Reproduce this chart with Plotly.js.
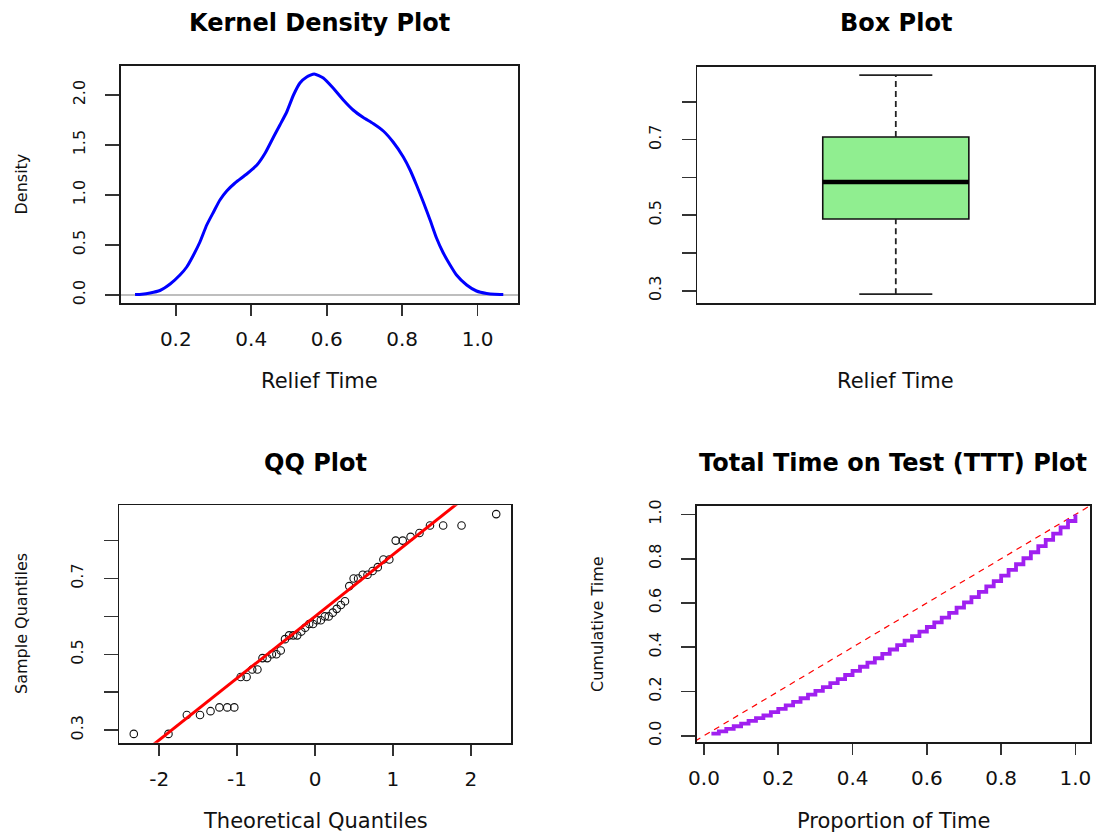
<!DOCTYPE html>
<html>
<head>
<meta charset="utf-8">
<script src="https://cdn.plot.ly/plotly-3.0.1.min.js"></script>
<style>
html,body{margin:0;padding:0;background:#fff;}
#chart{width:1097px;height:832px;}
</style>
</head>
<body>
<div id="chart"></div>
<script>
// ---------- data ----------
// Kernel density curve
var densX = [0.092,0.11,0.132,0.158,0.185,0.211,0.229,0.247,0.264,0.282,0.30,0.317,0.335,0.357,0.388,0.415,0.437,0.459,0.476,0.494,0.512,0.529,0.547,0.567,0.591,0.617,0.644,0.670,0.697,0.723,0.75,0.776,0.803,0.821,0.838,0.856,0.874,0.891,0.909,0.927,0.944,0.971,0.997,1.024,1.045,1.068];
var densY = [0.005,0.008,0.02,0.045,0.11,0.20,0.28,0.40,0.53,0.70,0.83,0.95,1.04,1.12,1.21,1.30,1.42,1.58,1.70,1.83,2.00,2.12,2.18,2.21,2.17,2.07,1.95,1.85,1.775,1.715,1.64,1.53,1.38,1.25,1.10,0.93,0.75,0.57,0.42,0.30,0.20,0.10,0.04,0.015,0.007,0.005];

// Box plot statistics (min, Q1, median, Q3, max)
var boxStats = [0.291, 0.490, 0.588, 0.707, 0.871];

// QQ plot: theoretical quantiles and sorted relief times
var qqTheo = [-2.326,-1.881,-1.645,-1.476,-1.341,-1.227,-1.126,-1.036,-0.954,-0.878,-0.806,-0.739,-0.674,-0.613,-0.553,-0.496,-0.440,-0.385,-0.332,-0.279,-0.228,-0.176,-0.126,-0.075,-0.025,0.025,0.075,0.126,0.176,0.228,0.279,0.332,0.385,0.440,0.496,0.553,0.613,0.674,0.739,0.806,0.878,0.954,1.036,1.126,1.227,1.341,1.476,1.645,1.881,2.326];
var reliefSorted = [0.29,0.29,0.34,0.34,0.35,0.36,0.36,0.36,0.44,0.44,
                    0.46,0.46,0.49,0.49,0.50,0.50,0.51,0.54,0.55,0.55,
                    0.55,0.56,0.57,0.58,0.58,0.59,0.59,0.60,0.60,0.61,
                    0.62,0.63,0.64,0.68,0.70,0.70,0.71,0.71,0.72,0.73,
                    0.75,0.75,0.80,0.80,0.81,0.82,0.84,0.84,0.84,0.87];
var qqLineX = [-3, 3];
var qqLineY = [0.111, 1.089];

// TTT plot
var tttX = [0.02,0.04,0.06,0.08,0.10,0.12,0.14,0.16,0.18,0.20,0.22,0.24,0.26,0.28,0.30,0.32,0.34,0.36,0.38,0.40,0.42,0.44,0.46,0.48,0.50,0.52,0.54,0.56,0.58,0.60,0.62,0.64,0.66,0.68,0.70,0.72,0.74,0.76,0.78,0.80,0.82,0.84,0.86,0.88,0.90,0.92,0.94,0.96,0.98,1.00];
var tttY = [0.0099,0.0197,0.0313,0.0428,0.0547,0.0670,0.0792,0.0915,0.1064,0.1214,0.1370,0.1527,0.1693,0.1860,0.2030,0.2200,0.2373,0.2557,0.2744,0.2931,0.3118,0.3308,0.3502,0.3699,0.3897,0.4097,0.4298,0.4502,0.4706,0.4913,0.5124,0.5338,0.5556,0.5787,0.6025,0.6263,0.6505,0.6746,0.6991,0.7239,0.7494,0.7749,0.8021,0.8293,0.8569,0.8847,0.9133,0.9419,0.9704,1.0];
var diagX = [-0.1, 1.1];
var diagY = [-0.1, 1.1];

// tick labels
var densXTicks = [0.2,0.4,0.6,0.8,1.0];
var densXText = ['0.2','0.4','0.6','0.8','1.0'];
var densYTicks = [0,0.5,1,1.5,2];
var densYText = ['0.0','0.5','1.0','1.5','2.0'];
var qTicks = [0.3,0.4,0.5,0.6,0.7,0.8];
var qText = ['0.3','','0.5','','0.7',''];
var qqXTicks = [-2,-1,0,1,2];
var qqXText = ['-2','-1','0','1','2'];
var tttTicks = [0,0.2,0.4,0.6,0.8,1.0];
var tttText = ['0.0','0.2','0.4','0.6','0.8','1.0'];

// ---------- styling ----------
var W = 1097, H = 832;
var FONT = 'DejaVu Sans, Liberation Sans, Arial, sans-serif';
var boxWidth = 0.368;
var capHalf = boxWidth / 4;

function px(x){ return x / W; }
function py(y){ return 1 - y / H; }

function xax(domain, range, tv, tt, anchor){
  return {domain: domain, range: range, anchor: anchor,
    showline: true, mirror: true, linecolor: '#1a1a1a', linewidth: 1.8,
    ticks: 'outside', ticklen: 11, tickwidth: 1.6, tickcolor: '#333',
    tickvals: tv, ticktext: tt, ticklabelstandoff: 6,
    tickfont: {family: FONT, size: 20, color: '#111'},
    showgrid: false, zeroline: false, fixedrange: true};
}
function yax(domain, range, tv, tt, anchor){
  return {domain: domain, range: range, anchor: anchor,
    showline: true, mirror: true, linecolor: '#1a1a1a', linewidth: 1.8,
    ticks: 'outside', ticklen: 14, tickwidth: 1.6, tickcolor: '#333',
    tickvals: tv, ticktext: tt, tickangle: -90, ticklabelstandoff: 14,
    tickfont: {family: FONT, size: 16, color: '#111'},
    showgrid: false, zeroline: false, fixedrange: true};
}

var traces = [];
// Kernel density
traces.push({type: 'scatter', mode: 'lines', x: densX, y: densY, xaxis: 'x', yaxis: 'y',
  line: {color: '#0000FF', width: 3, shape: 'spline', smoothing: 0.5}, hoverinfo: 'skip'});

// Box plot: box body from stats, whiskers dashed
traces.push({type: 'box', xaxis: 'x2', yaxis: 'y2', x: [0],
  q1: [boxStats[1]], median: [boxStats[2]], q3: [boxStats[3]],
  lowerfence: [boxStats[1]], upperfence: [boxStats[3]],
  width: boxWidth, whiskerwidth: 0, fillcolor: '#90EE90',
  line: {color: '#111', width: 1.6}, boxpoints: false, hoverinfo: 'skip'});
traces.push({type: 'scatter', mode: 'lines', xaxis: 'x2', yaxis: 'y2',
  x: [0, 0], y: [boxStats[3], boxStats[4]],
  line: {color: '#222', width: 1.8, dash: '6px,4px'}, hoverinfo: 'skip'});
traces.push({type: 'scatter', mode: 'lines', xaxis: 'x2', yaxis: 'y2',
  x: [0, 0], y: [boxStats[0], boxStats[1]],
  line: {color: '#222', width: 1.8, dash: '6px,4px'}, hoverinfo: 'skip'});
traces.push({type: 'scatter', mode: 'lines', xaxis: 'x2', yaxis: 'y2',
  x: [-capHalf, capHalf], y: [boxStats[4], boxStats[4]],
  line: {color: '#222', width: 1.6}, hoverinfo: 'skip'});
traces.push({type: 'scatter', mode: 'lines', xaxis: 'x2', yaxis: 'y2',
  x: [-capHalf, capHalf], y: [boxStats[0], boxStats[0]],
  line: {color: '#222', width: 1.6}, hoverinfo: 'skip'});
traces.push({type: 'scatter', mode: 'lines', xaxis: 'x2', yaxis: 'y2',
  x: [-boxWidth/2, boxWidth/2], y: [boxStats[2], boxStats[2]],
  line: {color: '#000', width: 4.5}, hoverinfo: 'skip'});

// QQ plot
traces.push({type: 'scatter', mode: 'markers', xaxis: 'x3', yaxis: 'y3',
  x: qqTheo, y: reliefSorted,
  marker: {symbol: 'circle-open', size: 7.5, color: '#111', line: {width: 1.1, color: '#111'}}, hoverinfo: 'skip'});
traces.push({type: 'scatter', mode: 'lines', xaxis: 'x3', yaxis: 'y3',
  x: qqLineX, y: qqLineY, line: {color: '#FF0000', width: 3}, hoverinfo: 'skip'});

// TTT plot
traces.push({type: 'scatter', mode: 'lines', xaxis: 'x4', yaxis: 'y4',
  x: diagX, y: diagY, line: {color: '#FF0000', width: 1.2, dash: '6px,5px'}, hoverinfo: 'skip'});
traces.push({type: 'scatter', mode: 'lines', xaxis: 'x4', yaxis: 'y4',
  x: tttX, y: tttY, line: {color: '#A020F0', width: 3.8, shape: 'hv'}, hoverinfo: 'skip'});

var P1x = [px(120.7), px(518)], P1y = [py(303), py(66)];
var P2x = [px(697.3), px(1094.3)], P2y = [py(303.3), py(66.7)];
var P3x = [px(119.3), px(510.7)], P3y = [py(742.7), py(505.3)];
var P4x = [px(696.7), px(1090)], P4y = [py(742.3), py(505.7)];

var ya1 = yax(P1y, [-0.08, 2.29], densYTicks, densYText, 'x');
ya1.zeroline = true; ya1.zerolinecolor = '#BEBEBE'; ya1.zerolinewidth = 1.5;

var xa2 = xax(P2x, [-0.5, 0.5], [], [], 'y2');
xa2.ticks = ''; xa2.showticklabels = false;

var layout = {
  width: W, height: H, margin: {l: 0, r: 0, t: 0, b: 0},
  paper_bgcolor: '#fff', plot_bgcolor: '#fff', showlegend: false,
  xaxis: xax(P1x, [0.054, 1.107], densXTicks, densXText, 'y'),
  yaxis: ya1,
  xaxis2: xa2,
  yaxis2: yax(P2y, [0.2668, 0.8932], qTicks, qText, 'x2'),
  xaxis3: xax(P3x, [-2.512, 2.512], qqXTicks, qqXText, 'y3'),
  yaxis3: yax(P3y, [0.2668, 0.8932], qTicks, qText, 'x3'),
  xaxis4: xax(P4x, [-0.0196, 1.0392], tttTicks, tttText, 'y4'),
  yaxis4: yax(P4y, [-0.0297, 1.0396], tttTicks, tttText, 'x4'),
  annotations: []
};

function title(text, x, y){
  layout.annotations.push({text: text, xref: 'paper', yref: 'paper', x: px(x), y: py(y),
    xanchor: 'center', yanchor: 'middle', showarrow: false,
    font: {family: FONT, size: 24, color: '#000', weight: 'bold'}});
}
function xlab(text, x, y){
  layout.annotations.push({text: text, xref: 'paper', yref: 'paper', x: px(x), y: py(y),
    xanchor: 'center', yanchor: 'middle', showarrow: false,
    font: {family: FONT, size: 21, color: '#111'}});
}
function ylab(text, x, y){
  layout.annotations.push({text: text, xref: 'paper', yref: 'paper', x: px(x), y: py(y),
    xanchor: 'center', yanchor: 'middle', showarrow: false, textangle: -90,
    font: {family: FONT, size: 16, color: '#111'}});
}
title('Kernel Density Plot', 319.3, 23);
title('Box Plot', 895.8, 23);
title('QQ Plot', 315, 463);
title('Total Time on Test (TTT) Plot', 893.4, 463);
xlab('Relief Time', 319.3, 381);
xlab('Relief Time', 895.8, 381);
xlab('Theoretical Quantiles', 315, 821);
xlab('Proportion of Time', 893.4, 821);
ylab('Density', 21, 184.5);
ylab('Sample Quantiles', 21, 624);
ylab('Cumulative Time', 597, 624);

Plotly.newPlot('chart', traces, layout, {staticPlot: true, displayModeBar: false});
</script>
</body>
</html>
